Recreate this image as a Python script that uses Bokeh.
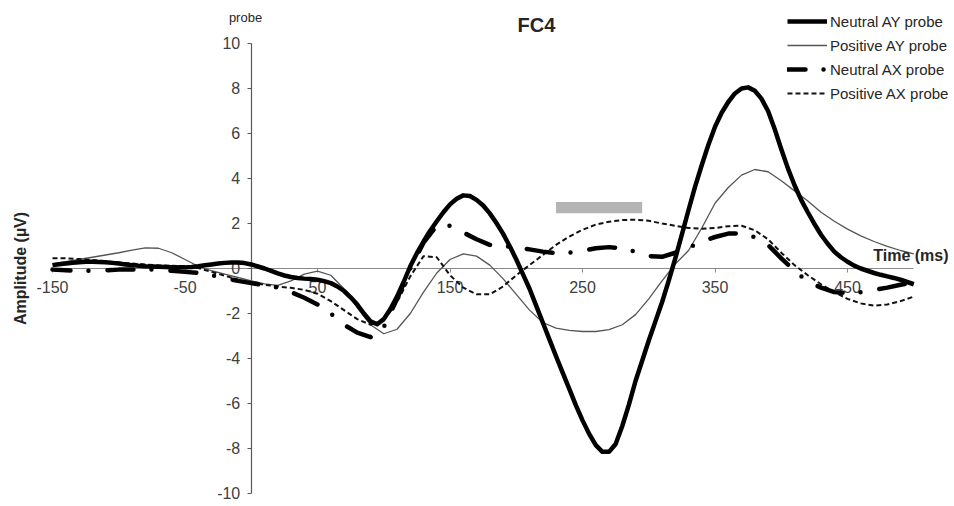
from math import pi
from bokeh.plotting import figure
from bokeh.models import Range1d, LinearAxis, FixedTicker, Label, Legend, LegendItem, Grid
from bokeh.embed import file_html
from bokeh.resources import INLINE

# ---------------- data ----------------
time_fine = list(range(-150, 501, 5))   # Neutral AY (sharp curve, read every 5 ms)
time_ms = list(range(-150, 501, 10))    # other series, read every 10 ms

neutral_ay = [0.15, 0.19, 0.22, 0.26, 0.28, 0.30, 0.30, 0.29, 0.28, 0.25,
              0.22, 0.18, 0.15, 0.12, 0.10, 0.09, 0.08, 0.07, 0.06, 0.05,
              0.05, 0.07, 0.10, 0.14, 0.18, 0.22, 0.25, 0.27, 0.27, 0.24,
              0.18, 0.09, 0.00, -0.11, -0.22, -0.31, -0.38, -0.42, -0.45, -0.47,
              -0.50, -0.56, -0.65, -0.80, -1.00, -1.28, -1.60, -2.00, -2.35, -2.48,
              -2.25, -1.80, -1.25, -0.60, 0.10, 0.68, 1.20, 1.68, 2.10, 2.50,
              2.85, 3.10, 3.25, 3.22, 3.05, 2.80, 2.45, 2.02, 1.55, 1.00,
              0.40, -0.25, -0.90, -1.65, -2.40, -3.15, -3.90, -4.63, -5.35, -6.08,
              -6.75, -7.35, -7.85, -8.15, -8.15, -7.80, -7.00, -6.05, -5.00, -4.10,
              -3.20, -2.35, -1.50, -0.55, 0.45, 1.52, 2.60, 3.65, 4.60, 5.50,
              6.30, 6.92, 7.40, 7.78, 8.00, 8.05, 7.90, 7.55, 7.00, 6.20,
              5.30, 4.45, 3.70, 3.05, 2.50, 1.98, 1.50, 1.10, 0.75, 0.50,
              0.30, 0.13, 0.00, -0.10, -0.20, -0.28, -0.35, -0.42, -0.50, -0.60,
              -0.70]

positive_ay = [0.20, 0.30, 0.40, 0.50, 0.60, 0.70, 0.82, 0.92, 0.90, 0.70,
               0.40, 0.10, -0.10, -0.25, -0.40, -0.55, -0.68, -0.75, -0.55, -0.25,
               -0.12, -0.30, -0.90, -1.75, -2.50, -2.90, -2.70, -2.00, -1.05, -0.20,
               0.40, 0.65, 0.55, 0.15, -0.45, -1.15, -1.85, -2.40, -2.65, -2.75,
               -2.80, -2.80, -2.72, -2.50, -2.05, -1.35, -0.55, 0.20, 0.80, 1.80,
               2.90, 3.60, 4.15, 4.40, 4.30, 3.90, 3.45, 3.00, 2.50, 2.10,
               1.75, 1.45, 1.20, 0.98, 0.80, 0.65]

neutral_ax = [-0.05, -0.08, -0.10, -0.10, -0.08, -0.05, -0.05, -0.05, -0.05, -0.10,
              -0.15, -0.20, -0.30, -0.42, -0.55, -0.65, -0.75, -0.85, -1.05, -1.30,
              -1.60, -2.00, -2.50, -2.85, -3.05, -2.60, -1.35, 0.00, 1.15, 1.90,
              1.90, 1.60, 1.30, 1.05, 1.00, 0.95, 0.85, 0.75, 0.68, 0.70,
              0.78, 0.90, 0.95, 0.90, 0.75, 0.55, 0.52, 0.70, 0.92, 1.20,
              1.40, 1.55, 1.55, 1.40, 1.05, 0.45, -0.10, -0.60, -0.85, -1.05,
              -1.10, -1.05, -0.95, -0.85, -0.72, -0.62]

positive_ax = [0.45, 0.45, 0.42, 0.38, 0.32, 0.27, 0.22, 0.18, 0.14, 0.12,
               0.10, 0.02, -0.15, -0.32, -0.50, -0.62, -0.72, -0.80, -0.86, -0.95,
               -1.12, -1.45, -1.85, -2.25, -2.50, -2.30, -1.50, -0.35, 0.55, 0.50,
               -0.30, -0.85, -1.15, -1.15, -0.80, -0.30, 0.15, 0.60, 1.05, 1.42,
               1.72, 1.95, 2.08, 2.15, 2.17, 2.12, 2.00, 1.90, 1.80, 1.77,
               1.80, 1.88, 1.90, 1.70, 1.30, 0.70, 0.15, -0.30, -0.70, -1.05,
               -1.35, -1.55, -1.65, -1.60, -1.45, -1.25]

x_ticks = [-150, -50, 50, 150, 250, 350, 450]
y_ticks = [-10, -8, -6, -4, -2, 0, 2, 4, 6, 8, 10]

sig_left = [230]
sig_right = [295]
sig_bottom = [2.45]
sig_top = [2.95]

series_labels = ["Neutral AY probe", "Positive AY probe", "Neutral AX probe", "Positive AX probe"]

FONT = "Liberation Sans"
TXT = "#262626"
W, H = 950, 502

# ---------------- figure ----------------
p = figure(width=W, height=H, output_backend="svg", toolbar_location=None,
           x_range=Range1d(-189.25, 527.7), y_range=Range1d(-10.4, 11.911),
           x_axis_location=None, y_axis_location=None,
           min_border_left=0, min_border_right=0, min_border_top=0, min_border_bottom=0)
p.outline_line_color = None
p.background_fill_color = "white"
for r in list(p.center):
    if isinstance(r, Grid):
        r.visible = False

yax = LinearAxis(fixed_location=0, bounds=(-10, 10), ticker=FixedTicker(ticks=y_ticks, minor_ticks=[]))
xax = LinearAxis(fixed_location=0, bounds=(-150, 500), ticker=FixedTicker(ticks=x_ticks, minor_ticks=[]))
yax.major_label_overrides = {t: str(t) for t in y_ticks}
xax.major_label_overrides = {t: str(t) for t in x_ticks}
for ax, col in ((yax, "#595959"), (xax, "#8a8a8a")):
    ax.level = "underlay"
    ax.axis_line_color = col
    ax.axis_line_width = 1.2
    ax.major_tick_line_color = col
    ax.major_tick_in = 0
    ax.major_tick_out = 4
    ax.minor_tick_line_color = None
    ax.major_label_text_font = FONT
    ax.major_label_text_font_size = "16px"
    ax.major_label_text_color = "#404040"
yax.major_label_standoff = 7
xax.major_label_standoff = 9
p.add_layout(yax, "left")
p.add_layout(xax, "below")

p.quad(left=sig_left, right=sig_right, bottom=sig_bottom, top=sig_top,
       fill_color="#b4b4b4", line_color=None)

r_pay = p.line(time_ms, positive_ay, line_color="#555555", line_width=1.3)
r_pax = p.line(time_ms, positive_ax, line_color="#111111", line_width=2, line_dash="5 3")
r_nax = p.line(time_ms, neutral_ax, line_color="black", line_width=4.5,
               line_dash="26 18 0 19", line_dash_offset=8,
               line_cap="round", line_join="round")
r_nay = p.line(time_fine, neutral_ay, line_color="black", line_width=4.5, line_join="round")

legend = Legend(items=[
    LegendItem(label=series_labels[0], renderers=[r_nay]),
    LegendItem(label=series_labels[1], renderers=[r_pay]),
    LegendItem(label=series_labels[2], renderers=[r_nax]),
    LegendItem(label=series_labels[3], renderers=[r_pax]),
], location=(787, 399))
legend.padding = 0
legend.margin = 0
legend.spacing = 4
legend.glyph_width = 40
legend.glyph_height = 20
legend.label_height = 20
legend.label_standoff = 3
legend.border_line_color = None
legend.background_fill_alpha = 0
legend.label_text_font = FONT
legend.label_text_font_size = "15px"
legend.label_text_color = TXT
p.add_layout(legend, "center")


def lab(text, x, y, size, bold=False, align="center", angle=0.0):
    p.add_layout(Label(x=x, y=y, x_units="screen", y_units="screen", text=text,
                       text_font=FONT, text_font_size=size,
                       text_font_style="bold" if bold else "normal",
                       text_align=align, text_baseline="middle", angle=angle,
                       text_color=TXT))


lab("FC4", 536, H - 24, "20px", bold=True)
lab("probe", 245, H - 17, "13px")
lab("Time (ms)", 948, H - 255, "16px", bold=True, align="right")
lab("Amplitude (µV)", 20, H - 268, "16px", bold=True, angle=pi / 2)

open("out.html", "w").write(file_html(p, INLINE))
